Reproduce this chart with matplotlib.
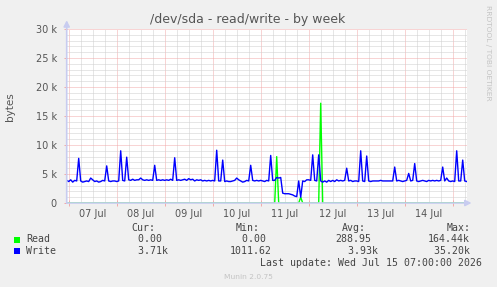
import matplotlib
matplotlib.use("Agg")
import matplotlib.pyplot as plt
from matplotlib.patches import Rectangle
from matplotlib.ticker import FixedLocator, FuncFormatter

# hourly samples, hours counted from 07 Jul 00:00 (first sample 06 Jul 23:00)
start_hour = -1
write_k = [
    3.9,
    # 07 Jul
    3.7, 4.0, 3.6, 3.9, 3.8, 7.7, 3.8, 3.6, 3.7, 3.8, 3.7, 4.3,
    4.0, 3.7, 3.8, 3.6, 3.7, 3.9, 3.8, 6.4, 3.8, 3.7, 3.8, 3.8,
    # 08 Jul
    3.7, 3.8, 9.0, 3.9, 3.8, 7.9, 4.0, 3.9, 4.1, 3.9, 4.0, 4.0,
    4.3, 4.0, 3.9, 4.0, 3.9, 4.0, 3.9, 6.5, 3.9, 4.0, 3.9, 4.0,
    # 09 Jul
    3.9, 4.0, 3.9, 4.1, 3.9, 7.8, 3.9, 4.0, 3.9, 4.0, 4.1, 3.9,
    4.2, 4.0, 4.1, 3.8, 4.0, 3.9, 4.0, 3.8, 3.9, 3.8, 3.9, 3.8,
    # 10 Jul
    3.9, 3.8, 9.1, 3.8, 3.8, 7.4, 3.7, 3.8, 3.7, 3.7, 3.8, 3.9,
    4.3, 4.0, 3.8, 3.6, 3.7, 3.9, 3.8, 6.5, 3.9, 3.8, 3.9, 3.8,
    # 11 Jul
    3.9, 3.8, 3.7, 3.9, 3.8, 8.2, 3.9, 3.9, 4.4, 4.3, 4.4, 1.7,
    1.6, 1.6, 1.6, 1.5, 1.4, 1.2, 1.1, 3.8, 1.0, 3.8, 3.7, 4.0,
    # 12 Jul
    4.0, 3.9, 8.3, 3.9, 3.8, 8.3, 3.8, 3.6, 3.8, 3.6, 3.9, 3.7,
    3.9, 3.7, 4.0, 3.8, 3.9, 3.8, 3.9, 6.0, 3.8, 3.9, 3.7, 3.8,
    # 13 Jul
    3.8, 3.7, 9.0, 3.8, 3.7, 8.1, 3.8, 3.7, 3.8, 3.8, 3.8, 3.8,
    3.9, 3.8, 3.8, 3.8, 3.8, 3.8, 3.8, 6.2, 3.8, 3.9, 3.8, 3.7,
    # 14 Jul
    3.8, 3.9, 5.1, 3.8, 3.9, 6.8, 3.8, 3.7, 3.8, 3.9, 3.8, 3.7,
    3.9, 3.8, 3.9, 3.8, 3.9, 3.8, 3.9, 6.2, 3.8, 4.3, 3.8, 3.7,
    # 15 Jul
    3.8, 3.7, 9.0, 3.8, 3.8, 7.4, 3.8, 3.7,
]
read_hours = [104, 116, 126]
read_k = [8.0, 1.0, 17.2]

day_labels = ["07 Jul", "08 Jul", "09 Jul", "10 Jul",
              "11 Jul", "12 Jul", "13 Jul", "14 Jul"]
y_ticks = [0, 5000, 10000, 15000, 20000, 25000, 30000]
y_labels = ["0", "5 k", "10 k", "15 k", "20 k", "25 k", "30 k"]

legend_names = ["Read", "Write"]
legend_colors = ["#00FF00", "#0000FF"]
cur_vals = ["  0.00", "  3.71k"]
min_vals = ["  0.00", "1011.62"]
avg_vals = ["288.95", "  3.93k"]
max_vals = ["164.44k", " 35.20k"]

W, H = 497, 287


def fx(px):
    return px / W


def fy(py):
    return 1 - py / H


def main():
    hours = list(range(start_hour, start_hour + len(write_k)))
    write = [v * 1000 for v in write_k]
    read = [0.0] * len(hours)
    for h, v in zip(read_hours, read_k):
        read[h - start_hour] = v * 1000

    fig = plt.figure(figsize=(W / 100, H / 100), dpi=100, facecolor="#F0F0F0")
    ax = fig.add_axes([fx(66.7), fy(203), fx(400), 174 / H])
    ax.set_facecolor("white")
    ax.set_xlim(-1, 199)
    ax.set_ylim(0, 30000)
    for s in ax.spines.values():
        s.set_visible(False)

    minor_c = "#CFCFCF"
    major_c = "#F2AAAA"
    dash = (0, (1, 1))

    # grid
    ax.xaxis.set_major_locator(FixedLocator(list(range(0, 199, 24))))
    ax.xaxis.set_minor_locator(FixedLocator(list(range(0, 199, 6))))
    ax.yaxis.set_major_locator(FixedLocator(y_ticks))
    ax.yaxis.set_minor_locator(FixedLocator(list(range(0, 30001, 1000))))
    ax.grid(which="minor", color=minor_c, lw=0.72, ls=dash, zorder=0)
    ax.grid(which="major", color=major_c, lw=0.72, ls=dash, zorder=0)
    ax.set_axisbelow(True)

    ax.xaxis.set_major_formatter(FuncFormatter(lambda v, p: ""))
    ax.xaxis.set_minor_formatter(FuncFormatter(
        lambda v, p: day_labels[int(v) // 24] if int(v) % 24 == 12 and int(v) // 24 < len(day_labels) else ""))
    ax.yaxis.set_major_formatter(FuncFormatter(lambda v, p: y_labels[y_ticks.index(int(v))]))
    ax.tick_params(axis="x", which="major", direction="inout", length=4, width=0.72, color=major_c)
    ax.tick_params(axis="x", which="minor", length=0, pad=4, labelsize=7, labelcolor="#555555")
    ax.tick_params(axis="y", which="major", direction="out", length=2, width=0.72, color=major_c,
                   pad=5, labelsize=7, labelcolor="#555555")
    ax.tick_params(axis="y", which="minor", length=0)

    # data
    ax.plot(hours, read, color=legend_colors[0], lw=1.0, zorder=3)
    ax.plot(hours, write, color=legend_colors[1], lw=1.0, zorder=4)

    # axes with arrows
    axis_c = "#C8CCF0"
    ax.annotate("", xy=(0, 1.05), xytext=(0, 0), xycoords="axes fraction",
                arrowprops=dict(arrowstyle="-|>,head_length=0.35,head_width=0.18",
                                color=axis_c, lw=1.2, shrinkA=0, shrinkB=0), zorder=6)
    ax.annotate("", xy=(1.012, 0), xytext=(0, 0), xycoords="axes fraction",
                arrowprops=dict(arrowstyle="-|>,head_length=0.35,head_width=0.18",
                                color=axis_c, lw=1.2, shrinkA=0, shrinkB=0), zorder=6)

    # texts
    fig.text(fx(248), fy(20), "/dev/sda - read/write - by week", ha="center", va="center",
             fontsize=9, color="#555555")
    fig.text(fx(10.5), fy(107), "bytes", rotation=90, ha="center", va="center",
             fontsize=7.5, color="#555555")
    fig.text(fx(488), fy(53), "RRDTOOL / TOBI OETIKER", rotation=270, ha="center", va="center",
             fontsize=5.4, color="#C4C4C4")

    mono = dict(family="DejaVu Sans Mono", fontsize=7.1, color="#444444", va="center")
    fig.text(fx(131.7), fy(228.3), "Cur:", **mono)
    fig.text(fx(236), fy(228.3), "Min:", **mono)
    fig.text(fx(342), fy(228.3), "Avg:", **mono)
    fig.text(fx(446.7), fy(228.3), "Max:", **mono)
    rows_y = [239.5, 251]
    for i in range(2):
        y = rows_y[i]
        fig.add_artist(Rectangle((fx(14), fy(y + 3)), fx(6), 6 / H,
                                 transform=fig.transFigure, color=legend_colors[i], lw=0))
        fig.text(fx(26), fy(y), legend_names[i], **mono)
        fig.text(fx(125.5), fy(y), cur_vals[i], **mono)
        fig.text(fx(230), fy(y), min_vals[i], **mono)
        fig.text(fx(335.5), fy(y), avg_vals[i], **mono)
        fig.text(fx(427.5), fy(y), max_vals[i], **mono)
    fig.text(fx(482), fy(263.5), "Last update: Wed Jul 15 07:00:00 2026", ha="right", **mono)
    fig.text(fx(248), fy(277), "Munin 2.0.75", ha="center", va="center",
             fontsize=5.4, color="#C4C4C4")

    fig.savefig("out.png", dpi=100, facecolor=fig.get_facecolor())


if __name__ == '__main__':
    main()
